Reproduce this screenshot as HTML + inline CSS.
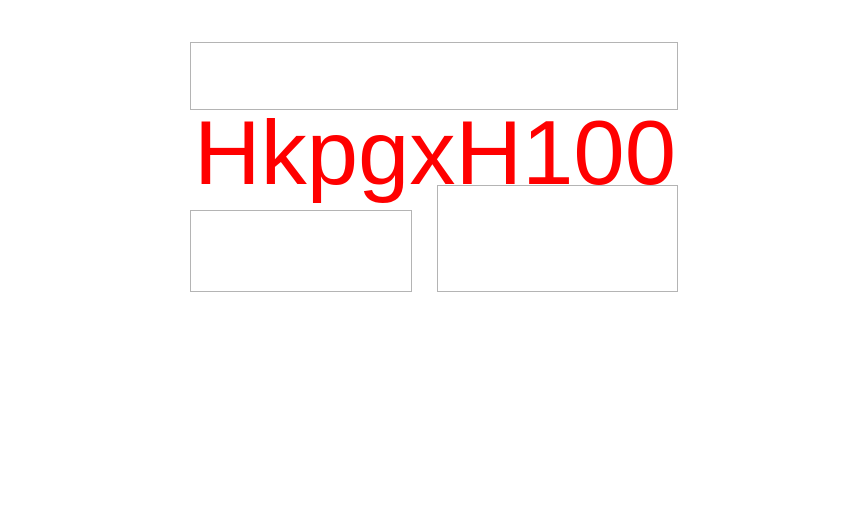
<!DOCTYPE html>
<html><head><meta charset="utf-8"><style>html,body{margin:0;padding:0;background:#fff;}</style></head>
<body>
<svg width="842" height="523" xmlns="http://www.w3.org/2000/svg" style="display:block">
<rect x="190.5" y="42.5" width="487" height="67" fill="none" stroke="#b4b4b4" stroke-width="1"/>
<rect x="190.5" y="210.5" width="221" height="81" fill="none" stroke="#b4b4b4" stroke-width="1"/>
<rect x="437.5" y="185.5" width="240" height="106" fill="none" stroke="#b4b4b4" stroke-width="1"/>
<text x="194" y="184" font-family="Liberation Sans, sans-serif" font-size="91" fill="#ff0000" textLength="482" lengthAdjust="spacingAndGlyphs">HkpgxH100</text>
</svg>
</body></html>
